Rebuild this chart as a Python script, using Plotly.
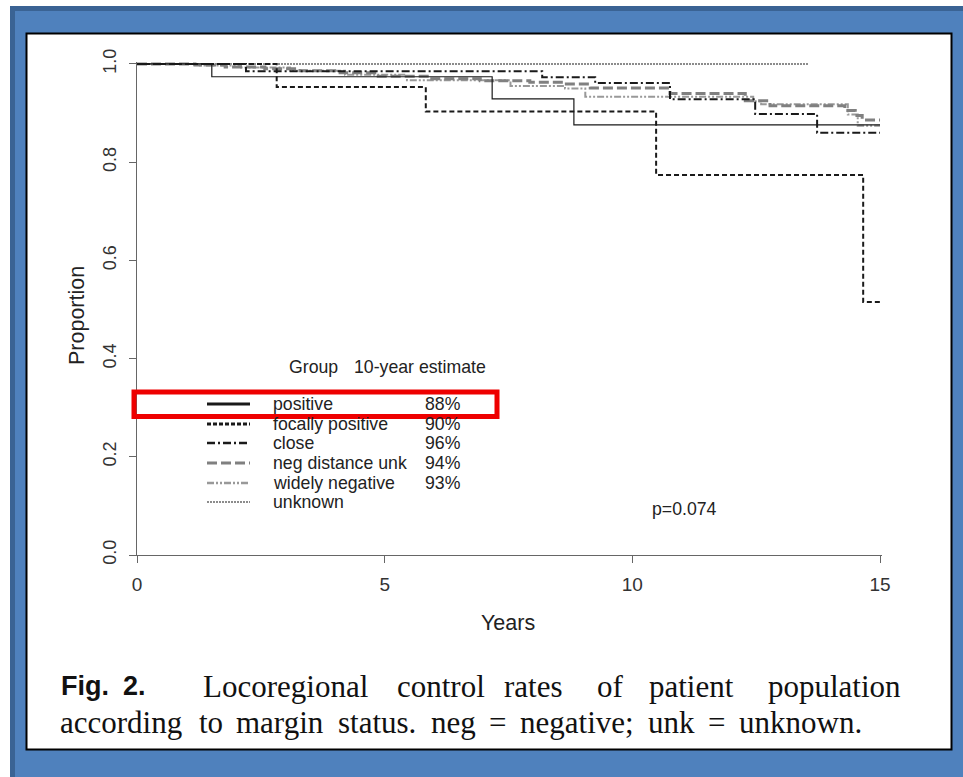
import plotly.graph_objects as go

# ---------------- data ----------------
groups = ["positive", "focally positive", "close", "neg distance unk", "widely negative", "unknown"]
estimates = ["88%", "90%", "96%", "94%", "93%", ""]

t_positive = [0, 1.51, 7.17, 8.82, 15]
s_positive = [1.0, 0.974, 0.929, 0.876, 0.876]

t_focal = [0, 2.82, 5.83, 10.48, 14.66, 15]
s_focal = [1.0, 0.953, 0.903, 0.774, 0.515, 0.515]

t_close = [0, 2.2, 8.18, 9.25, 10.76, 12.48, 13.73, 15]
s_close = [1.0, 0.985, 0.973, 0.961, 0.928, 0.898, 0.860, 0.860]

t_negunk = [0, 1.17, 1.78, 2.58, 3.29, 4.1, 4.8, 5.92, 6.93, 7.93, 8.6, 9.15, 10.76, 12.28, 12.78, 14.29, 14.5, 14.64, 15]
s_negunk = [1.0, 0.998, 0.994, 0.990, 0.986, 0.982, 0.975, 0.970, 0.966, 0.963, 0.959, 0.951, 0.940, 0.925, 0.915, 0.905, 0.895, 0.886, 0.886]

t_wide = [0, 1.27, 2.1, 3.09, 4.2, 5.45, 7.54, 8.64, 9.05, 12.44, 12.6, 14.35, 14.55, 15]
s_wide = [1.0, 0.997, 0.993, 0.986, 0.978, 0.967, 0.955, 0.950, 0.933, 0.924, 0.918, 0.897, 0.874, 0.874]

t_unknown = [0, 13.55]
s_unknown = [1.0, 1.0]

x_ticks = [0, 5, 10, 15]
y_ticks = [0.0, 0.2, 0.4, 0.6, 0.8, 1.0]
y_ticktext = ["0.0", "0.2", "0.4", "0.6", "0.8", "1.0"]

caption_line1 = ["Locoregional", "control", "rates", "of", "patient", "population"]
caption_line2 = ["according", "to", "margin", "status.", "neg", "=", "negative;", "unk", "=", "unknown."]

# ---------------- styles ----------------
styles = [
    dict(color="#1a1a1a", width=1.2, dash="solid"),
    dict(color="#1a1a1a", width=2, dash="5px,3px"),
    dict(color="#1a1a1a", width=2, dash="8px,3px,2px,3px"),
    dict(color="#808080", width=3, dash="10px,4px"),
    dict(color="#999999", width=2, dash="7px,2px,2px,2px,2px,2px"),
    dict(color="#8c8c8c", width=2, dash="2px,1px"),
]
legend_styles = [
    dict(color="#1a1a1a", width=3, dash="solid"),
    dict(color="#1a1a1a", width=3, dash="4px,2px"),
    dict(color="#1a1a1a", width=2.5, dash="8px,3px,2px,3px"),
    dict(color="#808080", width=3, dash="10px,4px"),
    dict(color="#999999", width=2.5, dash="7px,2px,2px,2px,2px,2px"),
    dict(color="#8c8c8c", width=2, dash="2px,1px"),
]

series = [(t_positive, s_positive), (t_focal, s_focal), (t_close, s_close),
          (t_negunk, s_negunk), (t_wide, s_wide), (t_unknown, s_unknown)]

fig = go.Figure()
for i in [5, 4, 3, 2, 1, 0]:
    t, s = series[i]
    fig.add_trace(go.Scatter(x=t, y=s, mode="lines", line_shape="hv",
                             line=styles[i], name=groups[i], showlegend=False,
                             hoverinfo="skip"))

# ---------------- layout helpers ----------------
W, H = 963, 777
ML, MT = 137, 62
PW, PH = 745, 493
MR = W - ML - PW
MB = H - MT - PH


def px_x(px):
    return (px - ML) / PW


def px_y(py):
    return (MT + PH - py) / PH


shapes = []
shapes.append(dict(type="rect", xref="paper", yref="paper", layer="below",
                   x0=px_x(12.5), y0=px_y(8.5), x1=px_x(985), y1=px_y(800),
                   fillcolor="#4F81BD", line=dict(color="#3A6394", width=5)))
shapes.append(dict(type="rect", xref="paper", yref="paper", layer="below",
                   x0=px_x(26.5), y0=px_y(33.5), x1=px_x(951.5), y1=px_y(749.5),
                   fillcolor="white", line=dict(color="black", width=2)))

annotations = []
sans = "Liberation Sans, Arial, sans-serif"
txt_col = "#222222"
LF = 17.7


def ann(text, x, y, size, family=sans, color=txt_col, xanchor="left", angle=0):
    annotations.append(dict(text=text, x=px_x(x), y=px_y(y), xref="paper", yref="paper",
                            xanchor=xanchor, yanchor="middle", showarrow=False, textangle=angle,
                            font=dict(family=family, size=size, color=color)))


ann("Group", 287, 367, LF)
ann("10-year estimate", 352, 367, LF)
row_y = [404, 424, 443, 463, 483, 502]
for i, g in enumerate(groups):
    yy = px_y(row_y[i])
    shapes.append(dict(type="line", xref="paper", yref="paper",
                       x0=px_x(207), x1=px_x(250), y0=yy, y1=yy,
                       line=legend_styles[i]))
    ann(g, 271, row_y[i], LF)
    if estimates[i]:
        ann(estimates[i], 463, row_y[i], LF, xanchor="right")

shapes.append(dict(type="rect", xref="paper", yref="paper",
                   x0=px_x(134), y0=px_y(392), x1=px_x(497), y1=px_y(416.5),
                   line=dict(color="#EE0000", width=5), fillcolor="rgba(0,0,0,0)"))

ann("p=0.074", 650, 509, LF)
ann("Years", 508, 623, 21.5, xanchor="center")
ann("Proportion", 77, 316, 21.5, xanchor="center", angle=-90)

serif = "Liberation Serif, Times New Roman, serif"
ann("<b>Fig.</b>", 59, 686, 27, color="#111111")
ann("<b>2.</b>", 121, 686, 27, color="#111111")
x1_pos = [201, 395, 502, 595, 647, 766]
for w, xx in zip(caption_line1, x1_pos):
    ann(w, xx, 686, 31, family=serif, color="#111111")
x2_pos = [58, 197, 234, 336, 429, 487, 518, 646, 706, 737]
for w, xx in zip(caption_line2, x2_pos):
    ann(w, xx, 722, 31, family=serif, color="#111111")

fig.update_layout(
    width=W, height=H,
    margin=dict(l=ML, r=MR, t=MT, b=MB, pad=0),
    paper_bgcolor="white",
    plot_bgcolor="rgba(0,0,0,0)",
    showlegend=False,
    shapes=shapes,
    annotations=annotations,
    xaxis=dict(range=[0, 15.04], tickvals=x_ticks, ticktext=[str(v) for v in x_ticks],
               showgrid=False, zeroline=False, showline=True, linecolor="#666666", linewidth=1,
               ticks="outside", ticklen=7, tickcolor="#666666", tickwidth=1,
               tickfont=dict(family=sans, size=19, color="#333333"), automargin=False,
               ticklabelstandoff=5),
    yaxis=dict(range=[0, 1.004], tickvals=y_ticks, ticktext=y_ticktext,
               showgrid=False, zeroline=False, showline=True, linecolor="#666666", linewidth=1,
               ticks="outside", ticklen=7, tickcolor="#666666", tickwidth=1, tickangle=-90,
               tickfont=dict(family=sans, size=18, color="#333333"), automargin=False,
               ticklabelstandoff=6),
)

fig.write_html("out.html")
